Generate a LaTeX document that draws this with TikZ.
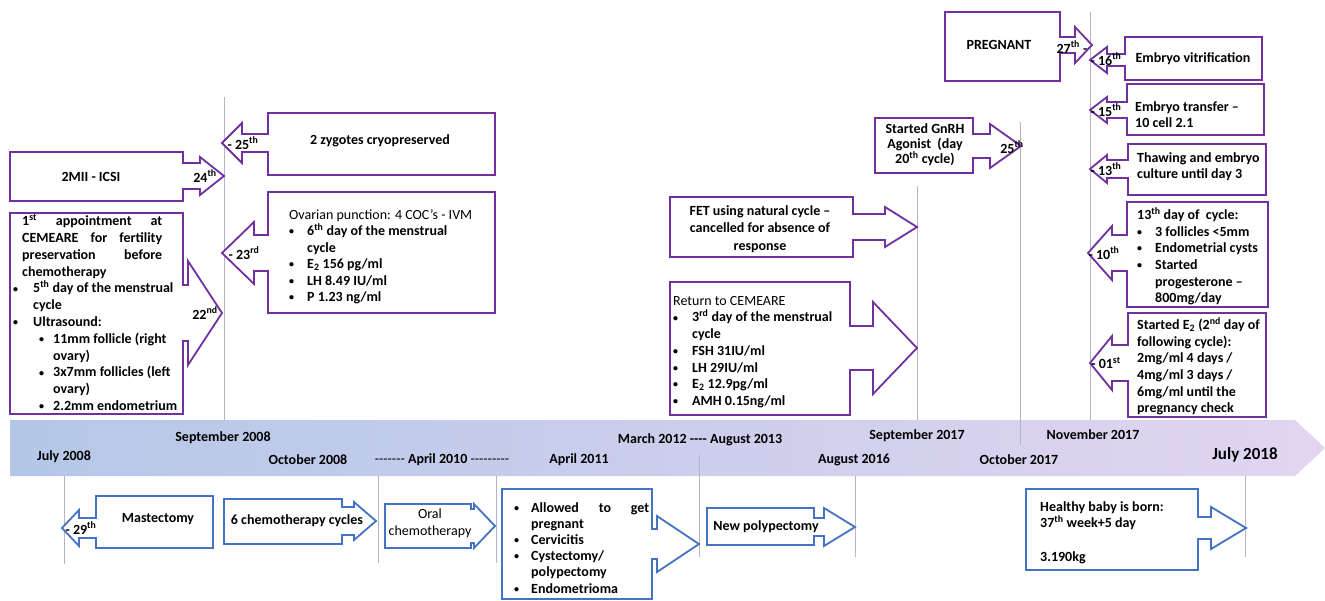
\documentclass[tikz,border=0pt]{standalone}
\usepackage{fontspec}
\setmainfont{Carlito}
\usetikzlibrary{positioning}

\definecolor{calloutpurple}{HTML}{7030A0}
\definecolor{calloutblue}{HTML}{4472C4}
\definecolor{bandleft}{RGB}{180,199,231}
\definecolor{bandright}{RGB}{226,213,240}
\definecolor{linegrey}{RGB}{185,176,208}

\newcommand{\fsz}{\fontsize{14}{16.7}\selectfont}
\newcommand{\bul}[1][18pt]{\makebox[#1][l]{\raisebox{0.8pt}{\fontsize{10}{10}\selectfont\textbullet}}}
% far x, top, near x, bottom, neck x, tip x, tip y, shaft half, head half
\newcommand{\calloutbox}[9]{%
  \draw[arrowbox] (#1,#2) -- (#3,#2) -- (#3,#7-#8) -- (#5,#7-#8) -- (#5,#7-#9)
    -- (#6,#7) -- (#5,#7+#9) -- (#5,#7+#8) -- (#3,#7+#8) -- (#3,#4) -- (#1,#4) -- cycle;}

\begin{document}
\begin{tikzpicture}[x=1pt,y=-1pt,
    every node/.style={inner sep=0pt,font=\fsz\bfseries},
    pline/.style={draw=calloutpurple,line width=1.8pt,fill=white},
    bline/.style={draw=calloutblue,line width=1.8pt,fill=white},
    arrowbox/.style=pline,
    dateline/.style={draw=linegrey,line width=0.8pt},
    txtblock/.style={anchor=north west,align=left}]

   \useasboundingbox (0,0) rectangle (1325,600);

   % timeline band
   \shade[left color=bandleft,right color=bandright]
     (10,420) -- (1295,420) -- (1325,448) -- (1295,476) -- (10,476) -- cycle;

   \foreach \x/\ya/\yb in {224/97/420, 917/186/420, 1020/122/445, 1090/12/420,
       64/476/564, 378/476/563, 496/476/563, 699/455/557, 855/476/557, 1245/476/557}
     \draw[dateline] (\x,\ya) -- (\x,\yb);

   % purple callouts
   \calloutbox{10}{152}{183}{201}{200}{224}{176}{13}{19}
   \calloutbox{10}{213}{183}{414}{188}{222}{313}{28}{52}
   \calloutbox{495}{113}{268}{175}{242}{222}{143}{9}{20}
   \calloutbox{495}{192}{268}{313}{254}{222}{253}{18}{31}
   \calloutbox{875}{118}{973}{173}{990}{1021}{146}{12}{22}
   \calloutbox{670}{197}{853}{257}{885}{917}{227}{13}{20}
   \calloutbox{670}{282}{850}{415}{873}{917}{348}{22}{46}
   \calloutbox{945}{12}{1060}{81}{1075}{1092}{45}{8}{18}
   \calloutbox{1262}{37}{1125}{80}{1107}{1090}{60}{6}{13}
   \calloutbox{1264}{84}{1127}{135}{1107}{1090}{110}{8}{13}
   \calloutbox{1266}{144}{1128}{195}{1107}{1090}{169}{9}{14}
   \calloutbox{1268}{202}{1127}{307}{1112}{1088}{253}{18}{27}
   \calloutbox{1266}{313}{1128}{417}{1112}{1090}{363}{18}{27}

   % blue callouts
   \begin{scope}[arrowbox/.style=bline]
   \calloutbox{213}{496}{96}{548}{79}{62}{528}{10}{18}
   \calloutbox{224}{499}{342}{544}{354}{376}{521}{14}{19}
   \calloutbox{385}{504}{471}{548}{474}{495}{526}{17}{22}
   \calloutbox{502}{489}{652}{599}{657}{699}{544}{15}{28}
   \calloutbox{707}{508}{814}{545}{824}{855}{527}{9}{19}
   \calloutbox{1026}{489}{1198}{570}{1211}{1246}{528}{11}{21}
   \end{scope}

   % upper texts
   \node (icsi) at (91,177) {2MII - ICSI};
   \node (d24) at (205,176) {24\textsuperscript{th}};
   \node[txtblock,font=\fontsize{14}{16.8}\selectfont\bfseries] (appt) at (13,214) {%
     \hspace*{9pt}\makebox[140pt][s]{1\textsuperscript{st} appointment at}\\
     \hspace*{9pt}\makebox[140pt][s]{CEMEARE for fertility}\\
     \hspace*{9pt}\makebox[140pt][s]{preservation before}\\
     \hspace*{9pt}chemotherapy\\
     \bul[20pt]5\textsuperscript{th} day of the menstrual\\
     \hspace*{20pt}cycle\\
     \bul[20pt]Ultrasound:\\
     \hspace*{26pt}\bul[14pt]11mm follicle (right\\
     \hspace*{40pt}ovary)\\
     \hspace*{26pt}\bul[14pt]3x7mm follicles (left\\
     \hspace*{40pt}ovary)\\
     \hspace*{26pt}\bul[14pt]2.2mm endometrium};
   \node (d22) at (205,313) {22\textsuperscript{nd}};
   \node (d25a) at (243,143) {- 25\textsuperscript{th}};
   \node (zyg) at (380,141) {2 zygotes cryopreserved};
   \node (d23) at (244,253) {- 23\textsuperscript{rd}};
   \node[txtblock,font=\fontsize{14}{16.5}\selectfont\bfseries] (punct) at (289,209) {%
     {\mdseries Ovarian punction: 4 COC’s - IVM}\\
     \bul 6\textsuperscript{th} day of the menstrual\\
     \hspace*{18pt}cycle\\
     \bul E\textsubscript{2} 156 pg/ml\\
     \bul LH 8.49 IU/ml\\
     \bul P 1.23 ng/ml};
   \node[align=center,font=\fontsize{14}{15}\selectfont\bfseries] (gnrh) at (925,145)
     {Started GnRH\\Agonist~ (day\\20\textsuperscript{th} cycle)};
   \node (d25b) at (1012,147) {25\textsuperscript{th}};
   \node[align=center,font=\fontsize{14}{17.5}\selectfont\bfseries] (fet) at (760,229)
     {FET using natural cycle –\\cancelled for absence of\\response};
   \node[txtblock] (ret) at (673,296) {%
     {\mdseries Return to CEMEARE}\\
     \bul[19pt]3\textsuperscript{rd} day of the menstrual\\
     \hspace*{19pt}cycle\\
     \bul[19pt]FSH 31IU/ml\\
     \bul[19pt]LH 29IU/ml\\
     \bul[19pt]E\textsubscript{2} 12.9pg/ml\\
     \bul[19pt]AMH 0.15ng/ml};
   \node (preg) at (999,45) {PREGNANT};
   \node (d27) at (1072,47) {27\textsuperscript{th} -};
   \node (d16) at (1106,59) {- 16\textsuperscript{th}};
   \node (vitr) at (1193,59) {Embryo vitrification};
   \node (d15) at (1106,110) {- 15\textsuperscript{th}};
   \node[txtblock] (transf) at (1135,101) {Embryo transfer –\\10 cell 2.1};
   \node (d13) at (1106,169) {- 13\textsuperscript{th}};
   \node[txtblock] (thaw) at (1137,152) {Thawing and embryo\\culture until day 3};
   \node (d10) at (1104,253) {- 10\textsuperscript{th}};
   \node[txtblock] (cyc13) at (1137,207) {%
     13\textsuperscript{th} day of~ cycle:\\
     \bul 3 follicles <5mm\\
     \bul Endometrial cysts\\
     \bul Started\\
     \hspace*{18pt}progesterone –\\
     \hspace*{18pt}800mg/day};
   \node (d01) at (1106,363) {- 01\textsuperscript{st}};
   \node[txtblock] (estr) at (1137,317) {%
     Started E\textsubscript{2} (2\textsuperscript{nd} day of\\
     following cycle):\\
     2mg/ml 4 days /\\
     4mg/ml 3 days /\\
     6mg/ml until the\\
     pregnancy check};

   % dates on the band
   \node (jul08) at (64,457) {July 2008};
   \node (sep08) at (223,438) {September 2008};
   \node (oct08) at (308,460) {October 2008};
   \node (apr10) at (442,460) {{\mdseries -{}-{}-{}-{}-{}-{}-} April 2010 {\mdseries -{}-{}-{}-{}-{}-{}-{}-{}-}};
   \node (apr11) at (579,460) {April 2011};
   \node (mar12) at (700,440) {March 2012 -{}-{}-{}- August 2013};
   \node (aug16) at (854,460) {August 2016};
   \node (sep17) at (917,436) {September 2017};
   \node (oct17) at (1019,460) {October 2017};
   \node (nov17) at (1093,435) {November 2017};
   \node[font=\fontsize{17}{20}\selectfont\bfseries] (jul18) at (1245,455) {July 2018};

   % lower texts
   \node (d29) at (81,528) {- 29\textsuperscript{th}};
   \node (mast) at (158,519) {Mastectomy};
   \node (chemo) at (297,521) {6 chemotherapy cycles};
   \node[align=center,font=\fontsize{14}{17}\selectfont] (oral) at (430,523) {Oral\\chemotherapy};
   \node[txtblock,font=\fontsize{14}{16.2}\selectfont\bfseries] (allow) at (514,502) {%
     \bul[17pt]\makebox[118pt][s]{Allowed to get}\\
     \hspace*{17pt}pregnant\\
     \bul[17pt]Cervicitis\\
     \bul[17pt]Cystectomy/\\
     \hspace*{17pt}polypectomy\\
     \bul[17pt]Endometrioma};
   \node (poly) at (766,527) {New polypectomy};
   \node[txtblock] (baby) at (1040,501)
     {Healthy baby is born:\\37\textsuperscript{th} week+5 day\\[16.7pt]3.190kg};
\end{tikzpicture}
\end{document}
